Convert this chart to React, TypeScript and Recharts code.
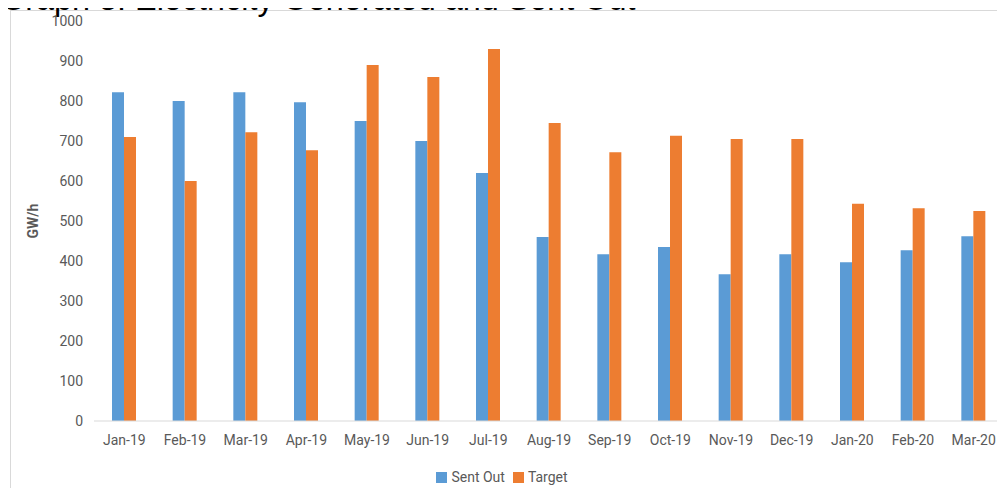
import React from 'react'
import { BarChart, Bar, XAxis, YAxis, Legend } from 'recharts'

// month labels + values (GW/h)
const months = ['Jan-19', 'Feb-19', 'Mar-19', 'Apr-19', 'May-19', 'Jun-19', 'Jul-19', 'Aug-19', 'Sep-19', 'Oct-19', 'Nov-19', 'Dec-19', 'Jan-20', 'Feb-20', 'Mar-20']
const sentOut = [822, 800, 822, 797, 750, 700, 620, 460, 417, 435, 367, 417, 397, 427, 462]
const target = [710, 600, 722, 677, 890, 860, 930, 745, 672, 713, 705, 705, 543, 532, 525]
const yTicks = [0, 100, 200, 300, 400, 500, 600, 700, 800, 900, 1000]

const data = months.map((m, i) => ({ month: m, sentOut: sentOut[i], target: target[i] }))

const FONT = 'Roboto, "Liberation Sans", Arial, sans-serif'
const tickStyle = { fill: '#595959', fontSize: 14, fontFamily: FONT }

// legend drawn by hand so the squares sit tight to the text like the original
function LegendBox({ payload }: any) {
  return (
    <div style={{ display: 'flex', justifyContent: 'center', alignItems: 'center', fontFamily: FONT, fontSize: 14, color: '#595959', paddingTop: 8, paddingLeft: 8 }}>
      {(payload || []).map((p: any) => (
        <span key={p.value} style={{ display: 'inline-flex', alignItems: 'center', marginRight: 8 }}>
          <span style={{ display: 'inline-block', width: 11, height: 11, background: p.color, marginRight: 4 }} />
          {p.value}
        </span>
      ))}
    </div>
  )
}

export default function App() {
  return (
    <div style={{ position: 'relative', margin: -8, width: 1005, height: 496, overflow: 'hidden', background: '#fff' }}>
      <div style={{ position: 'absolute', left: 10, top: 10, width: 1100, height: 600, border: '1px solid #d9d9d9' }} />
      {/* title is cut off at the top in the original */}
      <div style={{ position: 'absolute', left: 0, top: -17, lineHeight: '32px', fontFamily: '"Liberation Sans", Arial, sans-serif', fontSize: 32.4, color: '#000', whiteSpace: 'nowrap' }}>
        Graph 3: Electricity Generated and Sent Out
      </div>
      <div style={{ position: 'absolute', left: 0, top: 0 }}>
        <BarChart
          width={1005}
          height={496}
          data={data}
          margin={{ top: 21, right: 1, bottom: 0, left: 0 }}
          barGap={0}
        >
          <XAxis
            dataKey="month"
            tick={tickStyle}
            tickLine={false}
            axisLine={{ stroke: '#d9d9d9' }}
            tickMargin={8}
            interval={0}
            height={40}
          />
          <YAxis
            domain={[0, 1000]}
            ticks={yTicks}
            tick={tickStyle}
            tickLine={false}
            axisLine={false}
            tickMargin={5}
            width={94}
            label={{ value: 'GW/h', angle: -90, position: 'insideLeft', offset: 33, style: { fill: '#595959', fontSize: 14, fontWeight: 'bold', fontFamily: FONT, textAnchor: 'middle' } }}
          />
          <Legend verticalAlign="bottom" height={35} content={<LegendBox />} />
          <Bar dataKey="sentOut" name="Sent Out" fill="#5B9BD5" barSize={12} isAnimationActive={false} />
          <Bar dataKey="target" name="Target" fill="#ED7D31" barSize={12} isAnimationActive={false} />
        </BarChart>
      </div>
    </div>
  )
}
